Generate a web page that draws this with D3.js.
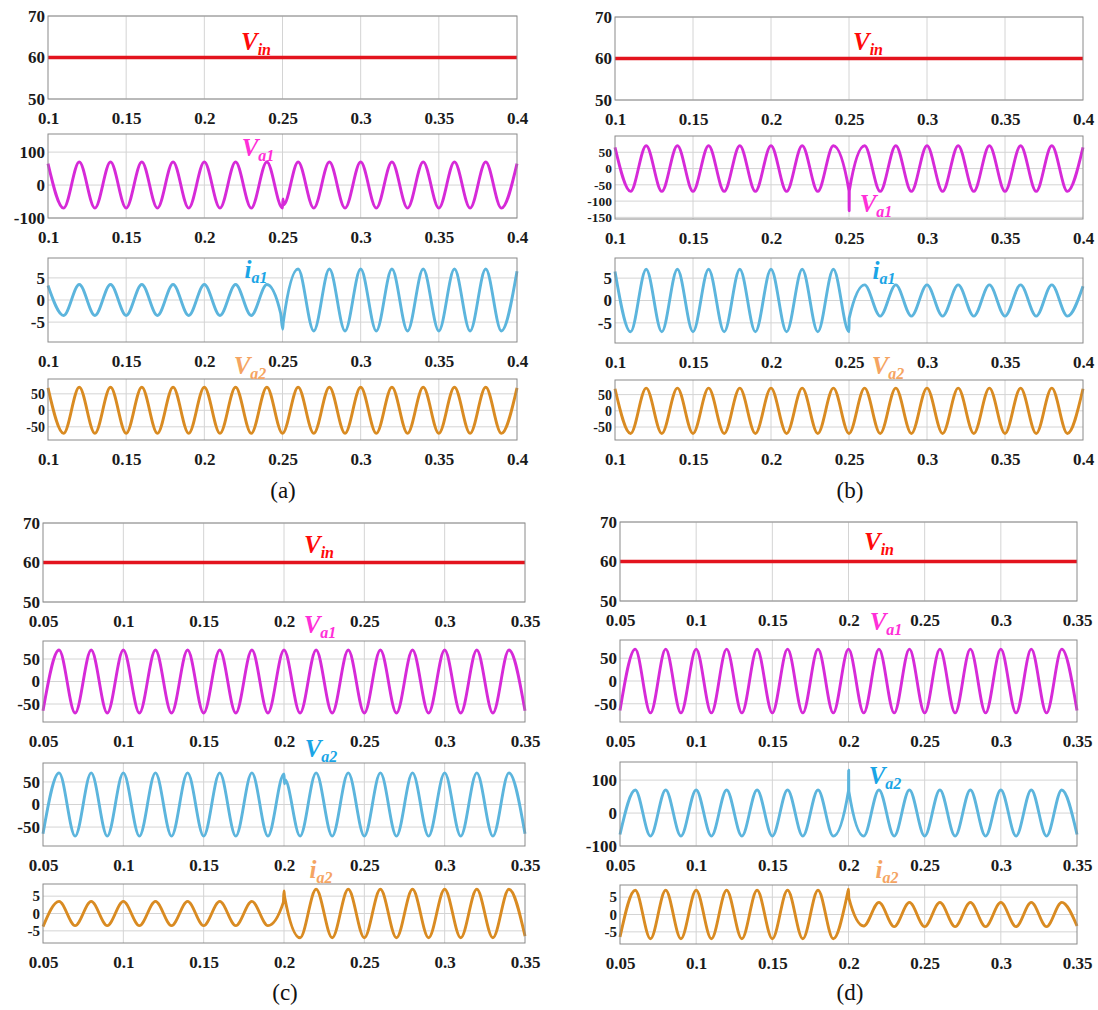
<!DOCTYPE html>
<html>
<head>
<meta charset="utf-8">
<script src="https://cdn.jsdelivr.net/npm/d3@7"></script>
<style>
  body { margin: 0; background: #fff; }
</style>
</head>
<body>
<script>
// x tick labels
const ticksAB = [0.1, 0.15, 0.2, 0.25, 0.3, 0.35, 0.4];
const ticksCD = [0.05, 0.1, 0.15, 0.2, 0.25, 0.3, 0.35];

// times of the peaks and troughs
const tAB = [0.1, 0.11, 0.12, 0.13, 0.14, 0.15, 0.16, 0.17, 0.18, 0.19, 0.2, 0.21, 0.22, 0.23, 0.24, 0.25,
  0.26, 0.27, 0.28, 0.29, 0.3, 0.31, 0.32, 0.33, 0.34, 0.35, 0.36, 0.37, 0.38, 0.39, 0.4];
const tCD = [0.05, 0.06, 0.07, 0.08, 0.09, 0.1, 0.11, 0.12, 0.13, 0.14, 0.15, 0.16, 0.17, 0.18, 0.19, 0.2,
  0.21, 0.22, 0.23, 0.24, 0.25, 0.26, 0.27, 0.28, 0.29, 0.3, 0.31, 0.32, 0.33, 0.34, 0.35];

// input voltage (flat)
const vinTimesAB = [0.1, 0.4];
const vinTimesCD = [0.05, 0.35];
const vinValues = [60, 60];

// (a)
const va1A = [65, -70, 70, -70, 70, -70, 70, -70, 70, -70, 70, -70, 70, -70, 70, -70,
  70, -70, 70, -70, 70, -70, 70, -70, 70, -70, 70, -70, 70, -70, 65];
const va1AGlitch = [[0.2503, -42], [0.2507, -60]];
const ia1A = [3.3, -3.5, 3.5, -3.5, 3.5, -3.5, 3.5, -3.5, 3.5, -3.5, 3.5, -3.5, 3.5, -3.5, 3.5, null,
  7, -7, 7, -7, 7, -7, 7, -7, 7, -7, 7, -7, 7, -7, 6.5];
const ia1AGlitch = [[0.2488, -3], [0.2501, -6.6], [0.2505, -5]];
const va2A = [68, -70, 70, -70, 70, -70, 70, -70, 70, -70, 70, -70, 70, -70, 70, -70,
  70, -70, 70, -70, 70, -70, 70, -70, 70, -70, 70, -70, 70, -70, 68];

// (b)
const va1B = [65, -70, 70, -70, 70, -70, 70, -70, 70, -70, 70, -70, 70, -70, 70, -68,
  70, -70, 70, -70, 70, -70, 70, -70, 70, -70, 70, -70, 70, -70, 65];
const va1BGlitch = [[0.2501, -130], [0.2502, -68]];
const ib1B = [6.5, -7, 7, -7, 7, -7, 7, -7, 7, -7, 7, -7, 7, -7, 7, -7,
  3.5, -3.5, 3.5, -3.5, 3.5, -3.5, 3.5, -3.5, 3.5, -3.5, 3.5, -3.5, 3.5, -3.5, 3.2];
const ib1BGlitch = [[0.2501, -4]];
const va2B = [68, -70, 70, -70, 70, -70, 70, -70, 70, -70, 70, -70, 70, -70, 70, -70,
  70, -70, 70, -70, 70, -70, 70, -70, 70, -70, 70, -70, 70, -70, 68];

// (c)
const va1C = [-65, 70, -70, 70, -70, 70, -70, 70, -70, 70, -70, 70, -70, 70, -70, 70,
  -70, 70, -70, 70, -70, 70, -70, 70, -70, 70, -70, 70, -70, 70, -65];
const va2C = [-65, 70, -70, 70, -70, 70, -70, 70, -70, 70, -70, 70, -70, 70, -70, 68,
  -70, 70, -70, 70, -70, 70, -70, 70, -70, 70, -70, 70, -70, 70, -65];
const va2CGlitch = [[0.2003, 46], [0.2006, 55]];
const ia2C = [-3.8, 3.5, -3.5, 3.5, -3.5, 3.5, -3.5, 3.5, -3.5, 3.5, -3.5, 3.5, -3.5, 3.5, -3.5, null,
  -7, 7, -7, 7, -7, 7, -7, 7, -7, 7, -7, 7, -7, 7, -6.5];
const ia2CGlitch = [[0.1996, 3.2], [0.2, 6.5], [0.2003, 5]];

// (d)
const va1D = [-65, 70, -70, 70, -70, 70, -70, 70, -70, 70, -70, 70, -70, 70, -70, 70,
  -70, 70, -70, 70, -70, 70, -70, 70, -70, 70, -70, 70, -70, 70, -65];
const va2D = [-65, 70, -70, 70, -70, 70, -70, 70, -70, 70, -70, 70, -70, 70, -70, 68,
  -70, 70, -70, 70, -70, 70, -70, 70, -70, 70, -70, 70, -70, 70, -65];
const va2DGlitch = [[0.2001, 130], [0.2002, 66]];
const ia2D = [-6.5, 7, -7, 7, -7, 7, -7, 7, -7, 7, -7, 7, -7, 7, -7, null,
  -3.3, 3.5, -3.5, 3.5, -3.5, 3.5, -3.5, 3.5, -3.5, 3.5, -3.5, 3.5, -3.5, 3.5, -3.3];
const ia2DGlitch = [[0.1995, 6.3], [0.2, 7.3], [0.2002, 4.8]];

// colours
const red = "#e3141e", magenta = "#d62ad8", blue = "#5cb5dd", ochre = "#d98b22";
const redLbl = "#ff0a0a", magLbl = "#ff2fd8", blueLbl = "#1aa5e6", orangeLbl = "#f5a462";
const serif = "'Liberation Serif', 'Times New Roman', serif";

function series(times, values, glitch) {
  let pts = times.map((t, i) => [t, values[i]]).filter(d => d[1] !== null);
  if (glitch) pts = pts.concat(glitch);
  return pts.sort((a, b) => a[0] - b[0]);
}

const svg = d3.select("body").append("svg")
  .attr("width", 1098).attr("height", 1010)
  .style("background", "#fff");

function drawPlot(p) {
  const x = d3.scaleLinear().domain(p.xdom).range(p.xr);
  const y = d3.scaleLinear().domain(p.ydom).range([p.yr[1], p.yr[0]]);
  const g = svg.append("g");

  // grid
  g.selectAll(".gx").data(p.xticks.slice(1, -1)).enter().append("line")
    .attr("x1", d => x(d)).attr("x2", d => x(d))
    .attr("y1", p.yr[0]).attr("y2", p.yr[1])
    .attr("stroke", "#d4d4d4").attr("stroke-width", 1);
  g.selectAll(".gy").data(p.yticks).enter().append("line")
    .attr("x1", p.xr[0]).attr("x2", p.xr[1])
    .attr("y1", d => y(d)).attr("y2", d => y(d))
    .attr("stroke", "#d4d4d4").attr("stroke-width", 1);

  // data line
  const line = d3.line()
    .x(d => x(d[0]))
    .y(d => y(d[1]))
    .curve(d3.curveMonotoneX);
  g.append("path").datum(p.data)
    .attr("d", line)
    .attr("fill", "none")
    .attr("stroke", p.color)
    .attr("stroke-width", p.width || 2.9)
    .attr("stroke-linejoin", "round");

  // box
  g.append("rect")
    .attr("x", p.xr[0]).attr("y", p.yr[0])
    .attr("width", p.xr[1] - p.xr[0]).attr("height", p.yr[1] - p.yr[0])
    .attr("fill", "none").attr("stroke", "#8a8a8a").attr("stroke-width", 1);

  // axes
  const xa = g.append("g").attr("transform", `translate(0,${p.yr[1]})`)
    .call(d3.axisBottom(x).tickValues(p.xticks).tickFormat(d => String(d)).tickSize(0).tickPadding(13));
  const ya = g.append("g").attr("transform", `translate(${p.xr[0]},0)`)
    .call(d3.axisLeft(y).tickValues(p.yticks).tickFormat(d => String(d)).tickSize(0).tickPadding(3));
  xa.attr("font-size", 17);
  ya.attr("font-size", p.yfs || 17);
  [xa, ya].forEach(a => {
    a.attr("font-family", serif).attr("font-weight", "bold");
    a.select(".domain").remove();
    a.selectAll("text").attr("fill", "#1a1a1a");
  });

  // series label
  const lbl = svg.append("text")
    .attr("x", p.lx).attr("y", p.ly)
    .attr("text-anchor", "middle")
    .attr("font-family", serif)
    .attr("font-weight", "bold")
    .attr("font-style", "italic")
    .attr("fill", p.lcolor);
  lbl.append("tspan").attr("font-size", 25).text(p.lmain);
  lbl.append("tspan").attr("font-size", 16).attr("dy", 5).text(p.lsub);
}

const XA = [48, 517], XB = [615, 1083], XC = [43, 525], XD = [620, 1077];
const domAB = [0.1, 0.4], domCD = [0.05, 0.35];

const plots = [
  // (a)
  { xr: XA, xdom: domAB, xticks: ticksAB, yr: [16, 99], ydom: [50, 70], yticks: [50, 60, 70],
    data: series(vinTimesAB, vinValues), color: red, width: 3.4,
    lx: 256, ly: 50, lmain: "V", lsub: "in", lcolor: redLbl },
  { xr: XA, xdom: domAB, xticks: ticksAB, yr: [134, 218], ydom: [-100, 155], yticks: [-100, 0, 100],
    data: series(tAB, va1A, va1AGlitch), color: magenta,
    lx: 258, ly: 156, lmain: "V", lsub: "a1", lcolor: magLbl },
  { xr: XA, xdom: domAB, xticks: ticksAB, yr: [258, 342], ydom: [-9.5, 9.5], yticks: [-5, 0, 5],
    data: series(tAB, ia1A, ia1AGlitch), color: blue,
    lx: 256, ly: 278, lmain: "i", lsub: "a1", lcolor: blueLbl },
  { xr: XA, xdom: domAB, xticks: ticksAB, yr: [379, 440], ydom: [-90, 95], yticks: [-50, 0, 50],
    data: series(tAB, va2A), color: ochre, yfs: 14,
    lx: 250, ly: 374, lmain: "V", lsub: "a2", lcolor: orangeLbl },
  // (b)
  { xr: XB, xdom: domAB, xticks: ticksAB, yr: [17, 100], ydom: [50, 70], yticks: [50, 60, 70],
    data: series(vinTimesAB, vinValues), color: red, width: 3.4,
    lx: 868, ly: 50, lmain: "V", lsub: "in", lcolor: redLbl },
  { xr: XB, xdom: domAB, xticks: ticksAB, yr: [136, 219], ydom: [-155, 100], yticks: [-150, -100, -50, 0, 50],
    data: series(tAB, va1B, va1BGlitch), color: magenta, yfs: 13.5,
    lx: 876, ly: 212, lmain: "V", lsub: "a1", lcolor: magLbl },
  { xr: XB, xdom: domAB, xticks: ticksAB, yr: [258, 343], ydom: [-9.5, 9.5], yticks: [-5, 0, 5],
    data: series(tAB, ib1B, ib1BGlitch), color: blue,
    lx: 884, ly: 279, lmain: "i", lsub: "a1", lcolor: blueLbl },
  { xr: XB, xdom: domAB, xticks: ticksAB, yr: [380, 440], ydom: [-90, 95], yticks: [-50, 0, 50],
    data: series(tAB, va2B), color: ochre, yfs: 14,
    lx: 888, ly: 374, lmain: "V", lsub: "a2", lcolor: orangeLbl },
  // (c)
  { xr: XC, xdom: domCD, xticks: ticksCD, yr: [523, 602], ydom: [50, 70], yticks: [50, 60, 70],
    data: series(vinTimesCD, vinValues), color: red, width: 3.4,
    lx: 319, ly: 553, lmain: "V", lsub: "in", lcolor: redLbl },
  { xr: XC, xdom: domCD, xticks: ticksCD, yr: [641, 722], ydom: [-90, 90], yticks: [-50, 0, 50],
    data: series(tCD, va1C), color: magenta,
    lx: 320, ly: 633, lmain: "V", lsub: "a1", lcolor: magLbl },
  { xr: XC, xdom: domCD, xticks: ticksCD, yr: [763, 846], ydom: [-92, 92], yticks: [-50, 0, 50],
    data: series(tCD, va2C, va2CGlitch), color: blue,
    lx: 321, ly: 757, lmain: "V", lsub: "a2", lcolor: blueLbl },
  { xr: XC, xdom: domCD, xticks: ticksCD, yr: [884, 943], ydom: [-8.5, 8.5], yticks: [-5, 0, 5],
    data: series(tCD, ia2C, ia2CGlitch), color: ochre, yfs: 15,
    lx: 321, ly: 878, lmain: "i", lsub: "a2", lcolor: orangeLbl },
  // (d)
  { xr: XD, xdom: domCD, xticks: ticksCD, yr: [522, 601], ydom: [50, 70], yticks: [50, 60, 70],
    data: series(vinTimesCD, vinValues), color: red, width: 3.4,
    lx: 879, ly: 550, lmain: "V", lsub: "in", lcolor: redLbl },
  { xr: XD, xdom: domCD, xticks: ticksCD, yr: [640, 722], ydom: [-90, 90], yticks: [-50, 0, 50],
    data: series(tCD, va1D), color: magenta,
    lx: 886, ly: 630, lmain: "V", lsub: "a1", lcolor: magLbl },
  { xr: XD, xdom: domCD, xticks: ticksCD, yr: [762, 846], ydom: [-100, 155], yticks: [-100, 0, 100],
    data: series(tCD, va2D, va2DGlitch), color: blue,
    lx: 885, ly: 784, lmain: "V", lsub: "a2", lcolor: blueLbl },
  { xr: XD, xdom: domCD, xticks: ticksCD, yr: [885, 944], ydom: [-8.5, 8.5], yticks: [-5, 0, 5],
    data: series(tCD, ia2D, ia2DGlitch), color: ochre, yfs: 15,
    lx: 887, ly: 878, lmain: "i", lsub: "a2", lcolor: orangeLbl }
];

plots.forEach(drawPlot);

// panel captions
const captions = [["(a)", 283, 498], ["(b)", 850, 498], ["(c)", 285, 1000], ["(d)", 850, 1000]];
svg.selectAll(".caption").data(captions).enter().append("text")
  .attr("class", "caption")
  .attr("x", d => d[1]).attr("y", d => d[2])
  .attr("text-anchor", "middle")
  .attr("font-family", serif)
  .attr("font-size", 23)
  .attr("fill", "#111")
  .text(d => d[0]);
</script>
</body>
</html>
